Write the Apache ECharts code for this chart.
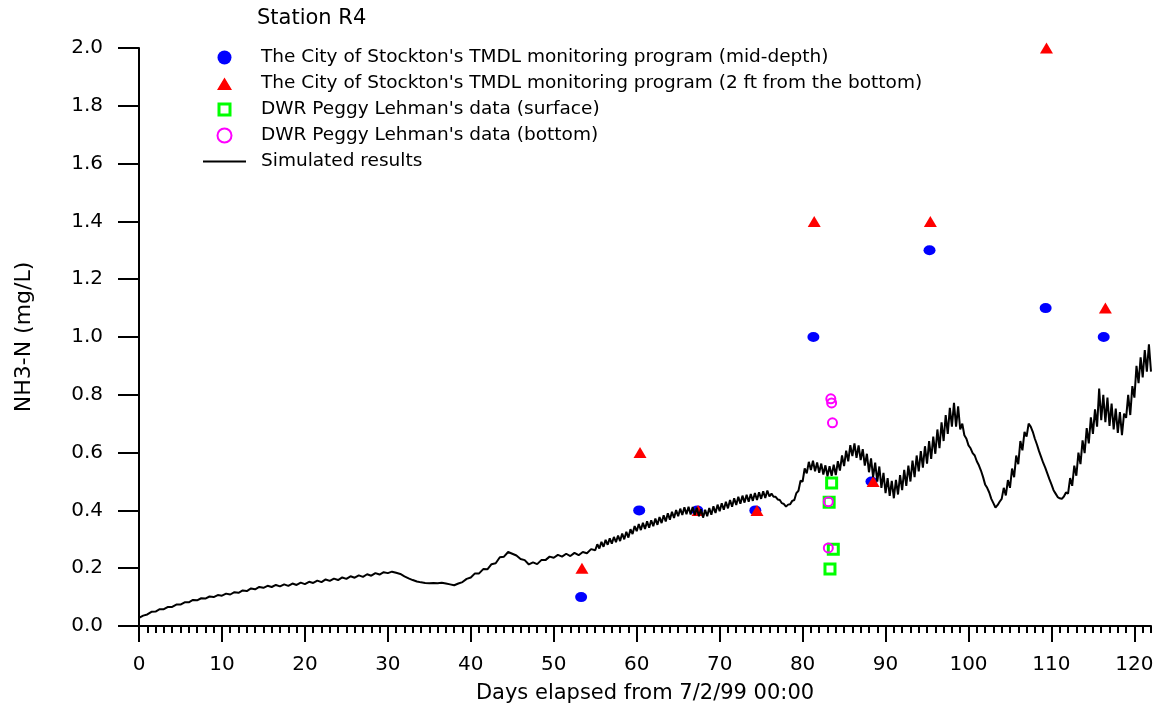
<!DOCTYPE html>
<html><head><meta charset="utf-8">
<script src="https://cdn.jsdelivr.net/npm/echarts@6/dist/echarts.min.js"></script>
<style>html,body{margin:0;padding:0;background:#fff}#c{width:1160px;height:712px}</style>
</head><body><div id="c"></div>
<script>
const chartTitle = 'Station R4';
const xAxisName = 'Days elapsed from 7/2/99 00:00';
const yAxisName = 'NH3-N (mg/L)';
const xMajorTicks = [0, 10, 20, 30, 40, 50, 60, 70, 80, 90, 100, 110, 120];
const seriesNames = [
  "The City of Stockton's TMDL monitoring program (mid-depth)",
  "The City of Stockton's TMDL monitoring program (2 ft from the bottom)",
  "DWR Peggy Lehman's data (surface)",
  "DWR Peggy Lehman's data (bottom)",
  "Simulated results"
];
const stocktonMid = [[53.3,0.10],[60.3,0.40],[67.3,0.40],[74.3,0.40],[81.3,1.00],[88.3,0.50],[95.3,1.30],[109.3,1.10],[116.3,1.00]];
const stocktonBottom = [[53.4,0.20],[60.4,0.60],[67.4,0.40],[74.5,0.40],[81.4,1.40],[88.5,0.50],[95.4,1.40],[109.4,2.00],[116.5,1.10]];
const dwrSurface = [[83.5,0.495],[83.2,0.428],[83.7,0.266],[83.3,0.197]];
const dwrBottom = [[83.4,0.786],[83.5,0.772],[83.6,0.703],[83.1,0.430],[83.1,0.270]];
const simulated = [
[0,0.028],[0.5,0.036],[1,0.040],[1.5,0.049],[2,0.050],[2.5,0.058],[3,0.058],[3.5,0.066],[4,0.066],[4.5,0.074],
[5,0.074],[5.5,0.082],[6,0.082],[6.5,0.090],[7,0.089],[7.5,0.096],[8,0.095],[8.5,0.102],[9,0.100],[9.5,0.107],
[10,0.105],[10.5,0.112],[11,0.109],[11.5,0.117],[12,0.115],[12.5,0.123],[13,0.121],[13.5,0.130],[14,0.127],[14.5,0.135],
[15,0.132],[15.5,0.139],[16,0.135],[16.5,0.142],[17,0.137],[17.5,0.144],[18,0.139],[18.5,0.147],[19,0.142],[19.5,0.150],
[20,0.145],[20.5,0.153],[21,0.149],[21.5,0.157],[22,0.152],[22.5,0.161],[23,0.156],[23.5,0.164],[24,0.159],[24.5,0.168],
[25,0.163],[25.5,0.172],[26,0.167],[26.5,0.175],[27,0.170],[27.5,0.179],[28,0.174],[28.5,0.183],[29,0.178],[29.5,0.186],
[30,0.183],[30.5,0.188],[31,0.184],[31.5,0.180],[32,0.172],[32.5,0.165],[33,0.159],[33.5,0.154],[34,0.151],[34.5,0.149],
[35,0.148],[35.5,0.149],[36,0.148],[36.5,0.150],[37,0.147],[37.5,0.144],[38,0.141],[38.5,0.147],[39,0.152],[39.5,0.163],
[40,0.168],[40.5,0.182],[41,0.182],[41.5,0.197],[42,0.196],[42.5,0.214],[43,0.217],[43.5,0.238],[44,0.240],[44.5,0.256],
[45,0.250],[45.5,0.244],[46,0.232],[46.5,0.228],[47,0.213],[47.5,0.220],[48,0.214],[48.5,0.228],[49,0.228],[49.5,0.240],
[50,0.236],[50.5,0.246],[51,0.240],[51.5,0.250],[52,0.242],[52.5,0.253],[53,0.245],[53.5,0.256],[54,0.252],[54.5,0.266],
[55,0.262],[55.25,0.283],[55.5,0.268],[55.75,0.291],[56,0.274],[56.25,0.298],[56.5,0.281],[56.75,0.303],
[57,0.285],[57.25,0.308],[57.5,0.290],[57.75,0.313],[58,0.294],[58.25,0.320],[58.5,0.300],[58.75,0.326],
[59,0.306],[59.25,0.335],[59.5,0.318],[59.75,0.346],[60,0.328],[60.25,0.353],[60.5,0.332],[60.75,0.357],
[61,0.336],[61.25,0.362],[61.5,0.340],[61.75,0.366],[62,0.345],[62.25,0.372],[62.5,0.350],[62.75,0.377],
[63,0.356],[63.25,0.383],[63.5,0.362],[63.75,0.390],[64,0.368],[64.25,0.395],[64.5,0.374],[64.75,0.401],
[65,0.380],[65.25,0.406],[65.5,0.384],[65.75,0.411],[66,0.387],[66.25,0.413],[66.5,0.386],[66.75,0.412],
[67,0.384],[67.25,0.409],[67.5,0.380],[67.75,0.404],[68,0.375],[68.25,0.402],[68.5,0.380],[68.75,0.408],
[69,0.385],[69.25,0.414],[69.5,0.391],[69.75,0.420],[70,0.397],[70.25,0.425],[70.5,0.402],[70.75,0.430],
[71,0.407],[71.25,0.436],[71.5,0.413],[71.75,0.442],[72,0.419],[72.25,0.447],[72.5,0.423],[72.75,0.451],
[73,0.427],[73.25,0.454],[73.5,0.430],[73.75,0.457],[74,0.433],[74.25,0.460],[74.5,0.436],[74.75,0.463],
[75,0.440],[75.25,0.466],[75.5,0.443],[75.75,0.469],[76,0.448],[76.25,0.458],[76.5,0.447],[76.75,0.447],
[77,0.438],[77.25,0.436],[77.5,0.425],[77.75,0.422],[78,0.413],[78.25,0.420],[78.5,0.421],[78.75,0.433],
[79,0.436],[79.25,0.460],[79.5,0.468],[79.75,0.503],[80,0.500],[80.25,0.545],[80.5,0.528],[80.75,0.568],
[81,0.540],[81.25,0.572],[81.5,0.535],[81.75,0.566],[82,0.530],[82.25,0.562],[82.5,0.524],[82.75,0.556],
[83,0.518],[83.25,0.553],[83.5,0.520],[83.75,0.558],[84,0.522],[84.25,0.570],[84.5,0.538],[84.75,0.590],
[85,0.553],[85.25,0.607],[85.5,0.570],[85.75,0.626],[86,0.588],[86.25,0.632],[86.5,0.582],[86.75,0.625],
[87,0.574],[87.25,0.612],[87.5,0.555],[87.75,0.596],[88,0.532],[88.25,0.580],[88.5,0.515],[88.75,0.565],
[89,0.500],[89.25,0.552],[89.5,0.478],[89.75,0.530],[90,0.460],[90.25,0.512],[90.5,0.450],[90.75,0.502],
[91,0.442],[91.25,0.506],[91.5,0.455],[91.75,0.522],[92,0.470],[92.25,0.540],[92.5,0.485],[92.75,0.555],
[93,0.500],[93.25,0.572],[93.5,0.515],[93.75,0.590],[94,0.535],[94.25,0.605],[94.5,0.548],[94.75,0.622],
[95,0.562],[95.25,0.640],[95.5,0.578],[95.75,0.655],[96,0.596],[96.25,0.680],[96.5,0.615],[96.75,0.705],
[97,0.640],[97.25,0.730],[97.5,0.665],[97.75,0.755],[98,0.690],[98.25,0.772],[98.5,0.690],[98.75,0.760],
[99,0.680],[99.25,0.700],[99.5,0.660],[99.75,0.648],[100,0.625],[100.25,0.615],[100.5,0.598],[100.75,0.590],
[101,0.570],[101.25,0.556],[101.5,0.538],[101.75,0.516],[102,0.490],[102.25,0.478],[102.5,0.462],[102.75,0.440],
[103,0.425],[103.25,0.410],[103.5,0.418],[103.75,0.430],[104,0.440],[104.25,0.478],[104.5,0.452],[104.75,0.505],
[105,0.478],[105.25,0.545],[105.5,0.515],[105.75,0.590],[106,0.560],[106.25,0.640],[106.5,0.608],[106.75,0.672],
[107,0.655],[107.25,0.700],[107.5,0.690],[107.75,0.672],[108,0.648],[108.25,0.628],[108.5,0.605],[108.75,0.585],
[109,0.565],[109.25,0.548],[109.5,0.528],[109.75,0.508],[110,0.490],[110.25,0.470],[110.5,0.458],[110.75,0.446],
[111,0.442],[111.25,0.440],[111.5,0.448],[111.75,0.462],[112,0.458],[112.25,0.512],[112.5,0.485],[112.75,0.555],
[113,0.520],[113.25,0.600],[113.5,0.560],[113.75,0.642],[114,0.598],[114.25,0.685],[114.5,0.632],[114.75,0.722],
[115,0.665],[115.25,0.750],[115.5,0.690],[115.75,0.822],[116,0.712],[116.25,0.800],[116.5,0.705],[116.75,0.790],
[117,0.692],[117.25,0.770],[117.5,0.680],[117.75,0.752],[118,0.668],[118.25,0.740],[118.5,0.660],[118.75,0.735],
[119,0.720],[119.25,0.800],[119.5,0.730],[119.75,0.830],[120,0.790],[120.25,0.900],[120.5,0.840],[120.75,0.930],
[121,0.860],[121.25,0.955],[121.5,0.880],[121.75,0.975],[122,0.880]
];

const FONT = 'DejaVu Sans';
const BOX = 'M0,0L0,0ZM43,14L43,14Z';
const chart = echarts.init(document.getElementById('c'), null, {renderer: 'canvas'});
chart.setOption({
  animation: false,
  backgroundColor: '#ffffff',
  title: {
    text: chartTitle, left: 252, top: 3,
    textStyle: {fontFamily: FONT, fontSize: 21, fontWeight: 'normal', color: '#000'}
  },
  legend: {
    orient: 'vertical', left: 198, top: 43,
    itemWidth: 43, itemHeight: 14, itemGap: 7,
    data: [
      {name: seriesNames[0]},
      {name: seriesNames[1], icon: 'path://' + BOX + 'M21.5,1L29,13.5L14,13.5Z'},
      {name: seriesNames[2], icon: 'path://' + BOX + 'M14.5,0L28.5,0L28.5,14L14.5,14ZM17.5,3L17.5,11L25.5,11L25.5,3Z',
       itemStyle: {color: '#00ff00', borderWidth: 0}},
      {name: seriesNames[3]},
      {name: seriesNames[4], icon: 'path://' + BOX + 'M0,6.1L43,6.1L43,7.9L0,7.9Z',
       itemStyle: {color: '#000', borderWidth: 0}}
    ],
    textStyle: {fontFamily: FONT, fontSize: 18.5, color: '#000', lineHeight: 18, padding: [0, 0, 0, 10]}
  },
  grid: {left: 139, right: 9, top: 48, bottom: 86, containLabel: false, outerBoundsMode: 'none'},
  xAxis: [{
    type: 'value', min: 0, max: 122, position: 'bottom',
    name: xAxisName, nameLocation: 'middle', nameGap: 57,
    nameTextStyle: {fontFamily: FONT, fontSize: 21, color: '#000'},
    axisLine: {show: true, lineStyle: {color: '#000', width: 2}},
    axisTick: {show: true, customValues: xMajorTicks, length: 16, lineStyle: {color: '#000', width: 2}},
    axisLabel: {customValues: xMajorTicks, margin: 29, fontFamily: FONT, fontSize: 20, color: '#000'},
    splitLine: {show: false}
  }, {
    type: 'value', min: 0, max: 122, interval: 1, position: 'bottom',
    axisLine: {show: false},
    axisTick: {show: true, length: 7, lineStyle: {color: '#000', width: 2}},
    axisLabel: {show: false},
    splitLine: {show: false}
  }],
  yAxis: {
    type: 'value', min: 0, max: 2, interval: 0.2,
    name: yAxisName, nameLocation: 'middle', nameGap: 104,
    nameTextStyle: {fontFamily: FONT, fontSize: 22, color: '#000'},
    axisLine: {show: true, lineStyle: {color: '#000', width: 2}},
    axisTick: {show: true, length: 21, lineStyle: {color: '#000', width: 2}},
    axisLabel: {margin: 36, fontFamily: FONT, fontSize: 20, color: '#000', formatter: v => v.toFixed(1)},
    splitLine: {show: false}
  },
  series: [
    {name: seriesNames[0], type: 'scatter', data: stocktonMid, symbol: 'circle', symbolSize: [12, 10],
     itemStyle: {color: '#0000ff', opacity: 1}, z: 2},
    {name: seriesNames[1], type: 'scatter', data: stocktonBottom, symbol: 'triangle', symbolSize: [13, 11],
     itemStyle: {color: '#ff0000', opacity: 1}, z: 3},
    {name: seriesNames[2], type: 'scatter', data: dwrSurface, symbol: 'rect', symbolSize: 10,
     itemStyle: {color: 'rgba(255,255,255,0)', borderColor: '#00ff00', borderWidth: 3, opacity: 1}, z: 4},
    {name: seriesNames[3], type: 'scatter', data: dwrBottom, symbol: 'circle', symbolSize: 9,
     itemStyle: {color: 'rgba(255,255,255,0)', borderColor: '#ff00ff', borderWidth: 2, opacity: 1}, z: 5},
    {name: seriesNames[4], type: 'line', data: simulated, showSymbol: false, symbol: 'none',
     lineStyle: {color: '#000', width: 2}, itemStyle: {color: '#000'}, z: 6}
  ]
});
</script>
</body></html>
